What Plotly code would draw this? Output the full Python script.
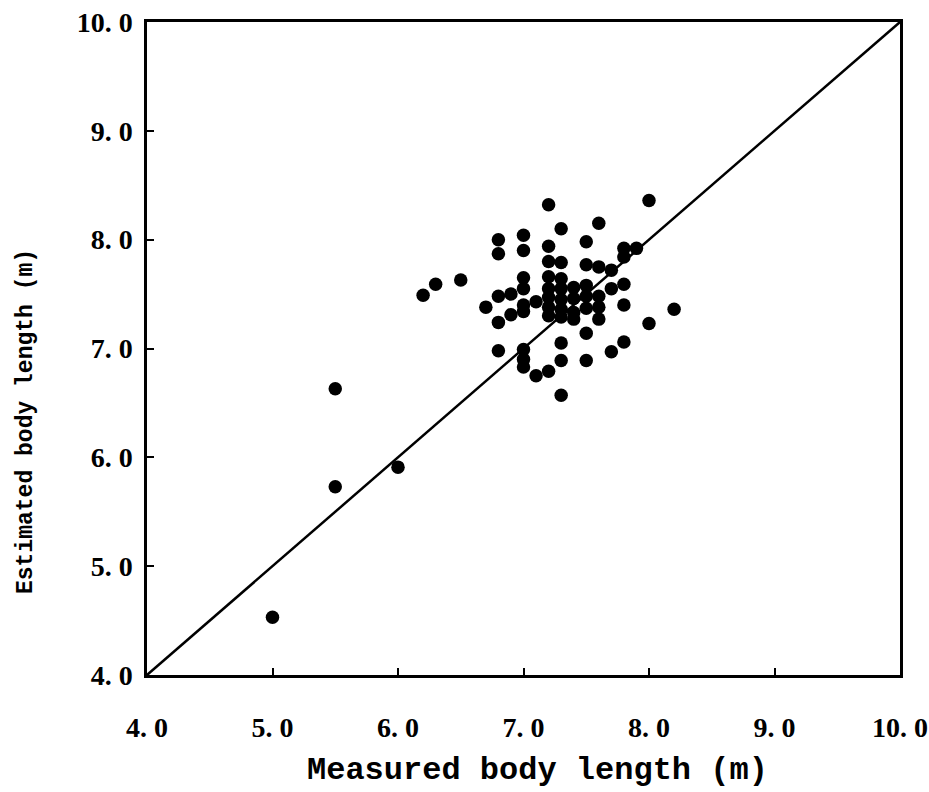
import plotly.graph_objects as go

# Measured (x) and estimated (y) body length, metres
measured = [5.0, 5.5, 5.5, 6.0, 6.2, 6.3, 6.5, 6.7,
            6.8, 6.8, 6.8, 6.8, 6.8, 6.9, 6.9,
            7.0, 7.0, 7.0, 7.0, 7.0, 7.0, 7.0, 7.0, 7.0,
            7.1, 7.1,
            7.2, 7.2, 7.2, 7.2, 7.2, 7.2, 7.2, 7.2, 7.2,
            7.3, 7.3, 7.3, 7.3, 7.3, 7.3, 7.3, 7.3, 7.3, 7.3,
            7.4, 7.4, 7.4, 7.4,
            7.5, 7.5, 7.5, 7.5, 7.5, 7.5, 7.5,
            7.6, 7.6, 7.6, 7.6, 7.6,
            7.7, 7.7, 7.7,
            7.8, 7.8, 7.8, 7.8, 7.8,
            7.9, 8.0, 8.0, 8.2]
estimated = [4.53, 6.63, 5.73, 5.91, 7.49, 7.59, 7.63, 7.38,
             8.00, 7.87, 7.48, 7.24, 6.98, 7.50, 7.31,
             8.04, 7.90, 7.65, 7.55, 7.40, 7.34, 6.99, 6.90, 6.83,
             7.43, 6.75,
             8.32, 7.94, 7.80, 7.66, 7.55, 7.47, 7.38, 7.30, 6.79,
             8.10, 7.79, 7.64, 7.55, 7.45, 7.36, 7.29, 7.05, 6.89, 6.57,
             7.56, 7.46, 7.33, 7.27,
             7.98, 7.77, 7.58, 7.48, 7.37, 7.14, 6.89,
             8.15, 7.75, 7.48, 7.38, 7.27,
             7.72, 7.55, 6.97,
             7.92, 7.84, 7.59, 7.40, 7.06,
             7.92, 8.36, 7.23, 7.36]

line_x = [4.0, 10.0]
line_y = [4.0, 10.0]

tick_vals = [4.0, 5.0, 6.0, 7.0, 8.0, 9.0, 10.0]
tick_text = ["4. 0", "5. 0", "6. 0", "7. 0", "8. 0", "9. 0", "10. 0"]

fig = go.Figure()
fig.add_trace(go.Scatter(x=line_x, y=line_y, mode="lines",
                         line=dict(color="black", width=2.5),
                         hoverinfo="skip", showlegend=False))
fig.add_trace(go.Scatter(x=measured, y=estimated, mode="markers",
                         marker=dict(color="black", size=13.5),
                         showlegend=False))

tick_font = dict(family="Liberation Serif", size=28, color="black", weight="bold")
axis_common = dict(range=[4.0, 10.0], tickvals=tick_vals, ticktext=tick_text,
                   ticks="inside", ticklen=7, tickwidth=2, tickcolor="black",
                   showline=True, linecolor="black", linewidth=2.5, mirror=True,
                   showgrid=False, zeroline=False, tickfont=tick_font,
                   ticklabeloverflow="allow", automargin=False)

fig.update_xaxes(**axis_common, ticklabelstandoff=26)
fig.update_yaxes(**axis_common, ticklabelstandoff=6)

title_font = dict(family="Liberation Mono", color="black", weight="bold")
fig.add_annotation(text="Measured body length (m)", xref="paper", yref="paper",
                   x=(537 - 147) / 753, y=-(770 - 675) / 653,
                   showarrow=False, font=dict(size=32, **title_font),
                   xanchor="center", yanchor="middle")
fig.add_annotation(text="Estimated body length (m)", xref="paper", yref="paper",
                   x=-(147 - 26) / 753, y=(675 - 422) / 653, textangle=-90,
                   showarrow=False, font=dict(size=23, **title_font),
                   xanchor="center", yanchor="middle")

fig.update_layout(width=929, height=792,
                  margin=dict(l=147, r=29, t=22, b=117),
                  plot_bgcolor="white", paper_bgcolor="white")

# remove the default page margin so the figure sits at the window origin
fig.write_html("out.html",
               config={"displayModeBar": False},
               post_script="document.body.style.margin='0';"
                           "document.documentElement.style.overflow='hidden';")
